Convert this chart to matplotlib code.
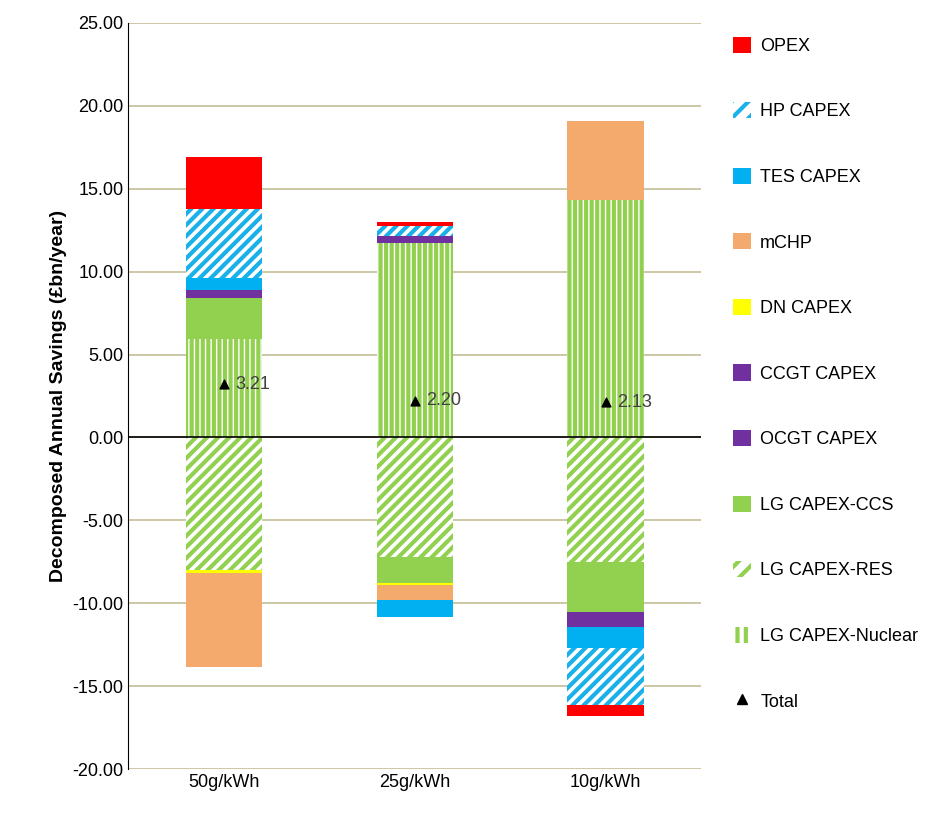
import matplotlib.pyplot as plt
import numpy as np
from matplotlib.lines import Line2D
from matplotlib.patches import Patch

plt.rcParams['font.family'] = ['Liberation Sans', 'DejaVu Sans']
plt.rcParams['hatch.linewidth'] = 3.0

categories = ['50g/kWh', '25g/kWh', '10g/kWh']
nuclear = [5.95, 11.7, 14.3]
res = [-8.0, -7.2, -7.5]
ccs = [2.45, -1.55, -3.0]
ocgt = [0.2, 0.1, -0.3]
ccgt = [0.3, 0.35, -0.6]
dn = [-0.15, -0.15, 0.0]
mchp = [-5.7, -0.9, 4.75]
tes = [0.7, -1.0, -1.3]
hp = [4.15, 0.6, -3.4]
opex = [3.15, 0.25, -0.7]
total = [3.21, 2.20, 2.13]

green = '#92d050'
blue = '#1ab0e8'
series = [
    ('LG CAPEX-Nuclear', nuclear, dict(facecolor='white', edgecolor=green, hatch='|||')),
    ('LG CAPEX-RES', res, dict(facecolor='white', edgecolor=green, hatch='///')),
    ('LG CAPEX-CCS', ccs, dict(facecolor=green, edgecolor=green)),
    ('OCGT CAPEX', ocgt, dict(facecolor='#7030a0', edgecolor='#7030a0')),
    ('CCGT CAPEX', ccgt, dict(facecolor='#7030a0', edgecolor='#7030a0')),
    ('DN CAPEX', dn, dict(facecolor='#ffff00', edgecolor='#ffff00')),
    ('mCHP', mchp, dict(facecolor='#f4a96d', edgecolor='#f4a96d')),
    ('TES CAPEX', tes, dict(facecolor='#00b0f0', edgecolor='#00b0f0')),
    ('HP CAPEX', hp, dict(facecolor='white', edgecolor=blue, hatch='///')),
    ('OPEX', opex, dict(facecolor='#ff0000', edgecolor='#ff0000')),
]

fig = plt.figure(figsize=(9.31, 8.14), dpi=100)
ax = fig.add_axes([0.138, 0.055, 0.615, 0.917])
x = np.arange(len(categories))
pos = np.zeros(3)
neg = np.zeros(3)
handles = []
for name, vals, style in series:
    vals = np.array(vals)
    bottom = np.where(vals >= 0, pos, neg)
    ax.bar(x, vals, 0.4, bottom=bottom, linewidth=0, zorder=3, **style)
    pos += np.where(vals >= 0, vals, 0)
    neg += np.where(vals < 0, vals, 0)
    hs = dict(style)
    if 'hatch' in hs:
        hs['hatch'] = hs['hatch'][:2]
    handles.append(Patch(linewidth=0, label=name, **hs))

ax.scatter(x, total, marker='^', color='black', s=40, zorder=5)
for xi, t in zip(x, total):
    ax.text(xi + 0.06, t, f'{t:.2f}', va='center', ha='left', fontsize=13, color='#404040', zorder=6)

handles = handles[::-1]
handles.append(Line2D([], [], marker='^', color='black', linestyle='none', markersize=7, label='Total'))

ax.axhline(0, color='black', linewidth=1.2, zorder=4)
ax.set_ylim(-20, 25)
ax.set_xlim(-0.5, 2.5)
ax.set_yticks(np.arange(-20, 26, 5))
ax.set_yticklabels([f'{v:.2f}' for v in np.arange(-20, 26, 5)], fontsize=13)
ax.set_xticks(x)
ax.set_xticklabels(categories, fontsize=13)
ax.tick_params(length=0)
ax.yaxis.grid(True, color='#c4bd97', linewidth=1.2, zorder=0)
for s in ['top', 'right', 'bottom']:
    ax.spines[s].set_visible(False)
ax.spines['left'].set_color('#000000')
ax.set_ylabel('Decomposed Annual Savings (£bn/year)', fontsize=14, fontweight='bold')

fig.legend(handles=handles, loc='upper left', bbox_to_anchor=(0.77, 0.975),
           frameon=False, fontsize=13, labelspacing=2.62, handlelength=1.0,
           handleheight=1.0, handletextpad=0.5)

fig.savefig('out.png')
